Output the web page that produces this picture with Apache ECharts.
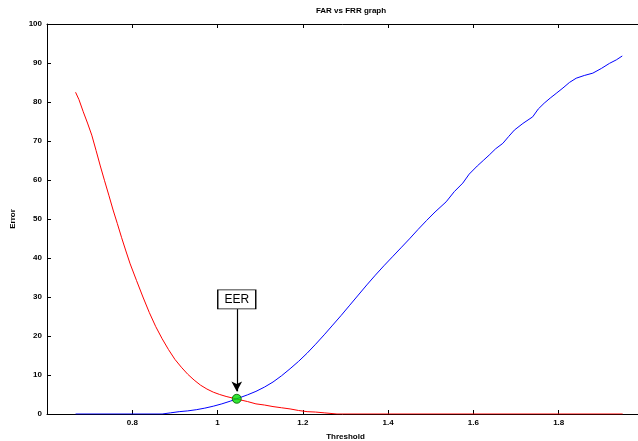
<!DOCTYPE html>
<html>
<head>
<meta charset="utf-8">
<script src="https://cdn.jsdelivr.net/npm/echarts@6/dist/echarts.min.js"></script>
<style>
  html, body { margin: 0; padding: 0; background: #fff; }
  #chart { width: 638px; height: 441px; }
</style>
</head>
<body>
<div id="chart"></div>
<script>
// red curve (FAR), falling with threshold
const farX = [0.667, 0.675, 0.685, 0.695, 0.705, 0.715, 0.725, 0.735, 0.745, 0.755,
  0.765, 0.775, 0.785, 0.795, 0.81, 0.825, 0.84, 0.855, 0.87, 0.885,
  0.90, 0.915, 0.93, 0.945, 0.96, 0.975, 0.99, 1.005, 1.02, 1.035,
  1.05, 1.07, 1.09, 1.11, 1.13, 1.15, 1.17, 1.19, 1.21, 1.23,
  1.25, 1.28, 1.95]
const farY = [82.5, 80.6, 77.5, 74.6, 71.5, 67.6, 63.6, 59.8, 56.1, 52.3,
  48.8, 45.2, 41.8, 38.5, 34.2, 30.0, 26.0, 22.4, 19.3, 16.5,
  14.0, 12.0, 10.2, 8.7, 7.4, 6.4, 5.6, 5.0, 4.5, 4.1,
  3.7, 3.2, 2.6, 2.3, 1.9, 1.6, 1.3, 0.9, 0.6, 0.5,
  0.3, 0, 0]

// blue curve (FRR), rising with threshold
const frrX = [0.667, 0.87, 0.89, 0.91, 0.93, 0.95, 0.97, 0.99, 1.01, 1.03,
  1.05, 1.07, 1.09, 1.11, 1.13, 1.15, 1.17, 1.19, 1.21, 1.23,
  1.25, 1.27, 1.29, 1.31, 1.33, 1.35, 1.37, 1.39, 1.41, 1.43,
  1.45, 1.47, 1.49, 1.51, 1.536, 1.555, 1.575, 1.59, 1.609, 1.623,
  1.637, 1.652, 1.669, 1.683, 1.696, 1.716, 1.739, 1.752, 1.766, 1.78,
  1.794, 1.81, 1.825, 1.841, 1.86, 1.88, 1.90, 1.919, 1.935, 1.949]
const frrY = [0, 0, 0.3, 0.6, 0.8, 1.1, 1.5, 2.0, 2.6, 3.3,
  4.1, 4.9, 5.8, 6.9, 8.2, 9.8, 11.6, 13.5, 15.6, 17.9,
  20.3, 22.8, 25.3, 27.9, 30.5, 33.1, 35.6, 38.0, 40.3, 42.6,
  44.9, 47.3, 49.6, 51.8, 54.4, 57.0, 59.2, 61.5, 63.6, 65.0,
  66.4, 68.0, 69.4, 71.2, 72.8, 74.5, 76.2, 78.2, 79.7, 81.0,
  82.2, 83.6, 85.0, 86.1, 86.8, 87.4, 88.6, 89.9, 90.8, 91.8]

// equal error rate point and its label box
const eerPoint = [1.045, 3.9]
const eerBox = [1.045, 29.4]
const eerArrow = [[1.045, 26.9], [1.045, 5.8]]

const yTicks = [0, 10, 20, 30, 40, 50, 60, 70, 80, 90, 100]

const zip = (xs, ys) => xs.map((x, i) => [x, ys[i]])

const labelFont = {
  fontFamily: 'Liberation Sans, Arial, sans-serif',
  fontSize: 8,
  fontWeight: 'bold',
  color: '#000',
}

const chart = echarts.init(document.getElementById('chart'))
const option = {
  animation: false,
  backgroundColor: '#fff',
  title: {
    text: 'FAR vs FRR graph',
    left: 346,
    textAlign: 'center',
    top: 2,
    textStyle: { ...labelFont, fontSize: 8 },
  },
  grid: {
    left: 47,
    right: -6,
    top: 24,
    bottom: 27,
    containLabel: false,
    outerBoundsMode: 'none',
  },
  xAxis: [
    {
      type: 'value',
      min: 0.6,
      max: 2.0,
      interval: 0.2,
      name: 'Threshold',
      nameLocation: 'middle',
      nameGap: 19,
      nameTextStyle: labelFont,
      axisLine: { lineStyle: { color: '#000', width: 1 } },
      axisTick: { inside: true, length: 4, lineStyle: { color: '#000' } },
      axisLabel: {
        ...labelFont,
        margin: 5,
        showMinLabel: false,
        showMaxLabel: false,
        formatter: v => String(Math.round(v * 10) / 10),
      },
      splitLine: { show: false },
    },
    {
      type: 'value',
      position: 'top',
      min: 0.6,
      max: 2.0,
      interval: 0.2,
      axisLine: { lineStyle: { color: '#000', width: 1 } },
      axisTick: { inside: true, length: 4, lineStyle: { color: '#000' } },
      axisLabel: { show: false },
      splitLine: { show: false },
    },
  ],
  yAxis: {
    type: 'value',
    min: yTicks[0],
    max: yTicks[yTicks.length - 1],
    interval: 10,
    name: 'Error',
    nameLocation: 'middle',
    nameGap: 30,
    nameRotate: 90,
    nameTextStyle: labelFont,
    axisLine: { show: true, lineStyle: { color: '#000', width: 1 } },
    axisTick: { show: true, inside: true, length: 4, lineStyle: { color: '#000' } },
    axisLabel: { ...labelFont, margin: 5 },
    splitLine: { show: false },
  },
  series: [
    {
      name: 'FAR',
      type: 'line',
      data: zip(farX, farY),
      showSymbol: false,
      lineStyle: { color: '#ff0000', width: 1 },
      z: 3,
    },
    {
      name: 'FRR',
      type: 'line',
      data: zip(frrX, frrY),
      showSymbol: false,
      lineStyle: { color: '#0000ff', width: 1 },
      z: 3,
    },
    {
      name: 'EER',
      type: 'scatter',
      data: [eerPoint],
      symbol: 'circle',
      symbolSize: 9,
      itemStyle: { color: '#00e000', borderColor: '#005a00', borderWidth: 1 },
      z: 10,
      markLine: {
        silent: true,
        symbol: ['none', 'arrow'],
        symbolSize: [8, 10],
        label: { show: false },
        lineStyle: { color: '#000', width: 1.2, type: 'solid' },
        data: [[
          { coord: eerArrow[0] },
          { coord: eerArrow[1] },
        ]],
      },
      markPoint: {
        silent: true,
        data: [{
          coord: eerBox,
          symbol: 'rect',
          symbolSize: [38, 19],
          itemStyle: { color: '#fff', borderColor: '#000', borderWidth: 1 },
          label: {
            show: true,
            position: 'inside',
            formatter: 'EER',
            color: '#000',
            fontFamily: 'Liberation Sans, Arial, sans-serif',
            fontSize: 12,
          },
        }],
      },
    },
  ],
}
chart.setOption(option)
</script>
</body>
</html>
